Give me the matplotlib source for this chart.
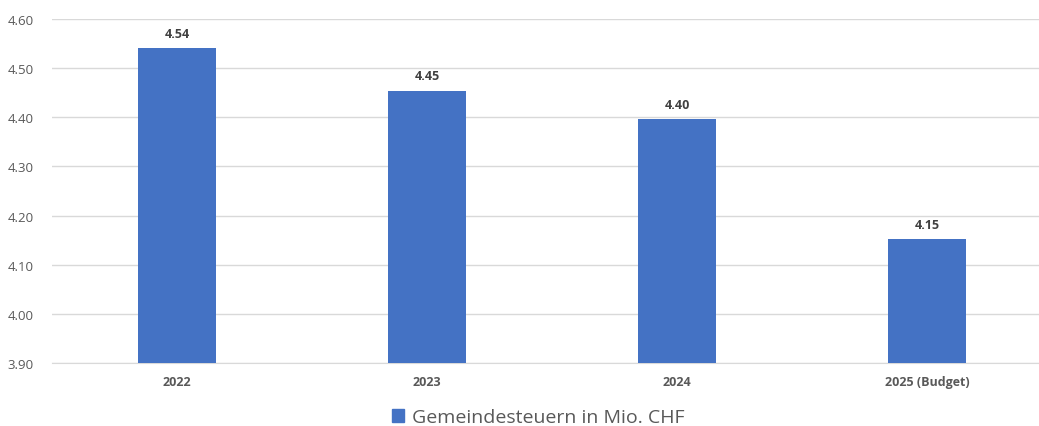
import matplotlib.pyplot as plt
from matplotlib.patches import Patch

plt.rcParams['font.family'] = ['Open Sans', 'DejaVu Sans']

jahre = ['2022', '2023', '2024', '2025 (Budget)']
steuern = [4.541, 4.454, 4.396, 4.152]
farbe = '#4472C4'

fig = plt.figure(figsize=(10.39, 4.27), dpi=100)
ax = fig.add_axes([52 / 1039, 63 / 427, 1000 / 1039, 344 / 427])

x = range(len(jahre))
balken = ax.bar(x, steuern, width=0.31, color=farbe, zorder=3)

for b, v in zip(balken, steuern):
    ax.annotate(f'{v:.2f}', (b.get_x() + b.get_width() / 2, v),
                xytext=(0, 6), textcoords='offset points',
                ha='center', va='bottom', fontsize=9, fontweight='bold', color='#404040')

ax.set_xlim(-0.5, 3.5)
ax.set_ylim(3.90, 4.60)
ax.set_yticks([3.90, 4.00, 4.10, 4.20, 4.30, 4.40, 4.50, 4.60])
ax.set_yticklabels([f'{t:.2f}' for t in ax.get_yticks()])
ax.set_xticks(list(x))
ax.set_xticklabels(jahre, fontweight='bold')
ax.tick_params(axis='y', length=0, pad=13, labelsize=9.5, labelcolor='#595959')
ax.tick_params(axis='x', length=0, pad=9, labelsize=9, labelcolor='#595959')

ax.grid(axis='y', color='#d9d9d9', linewidth=1, zorder=0)
for s in ax.spines.values():
    s.set_visible(False)
ax.spines['bottom'].set_visible(True)
ax.spines['bottom'].set_color('#d9d9d9')

fig.legend(handles=[Patch(color=farbe, label='Gemeindesteuern in Mio. CHF')],
           loc='center', bbox_to_anchor=(538 / 1039, 1 - 418 / 427), frameon=False,
           fontsize=14, labelcolor='#595959', handlelength=0.65, handleheight=0.65,
           handletextpad=0.4)

fig.savefig('out.png', dpi=100)
